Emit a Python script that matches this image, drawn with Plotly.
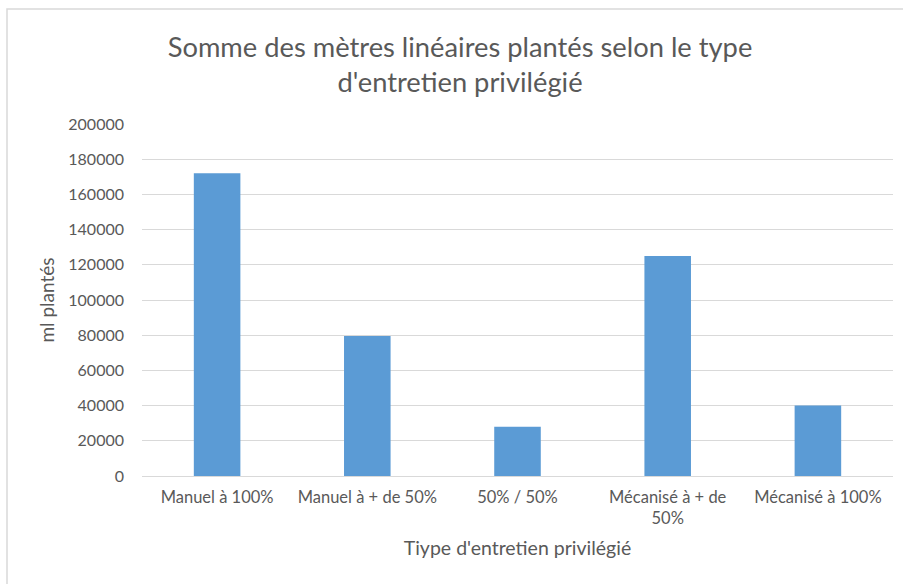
import plotly.graph_objects as go

categories = ["Manuel à 100%", "Manuel à + de 50%", "50% / 50%",
              "Mécanisé à + de<br>50%", "Mécanisé à 100%"]
values = [172000, 79500, 28000, 125000, 40000]
y_ticks = [0, 20000, 40000, 60000, 80000, 100000, 120000, 140000, 160000, 180000, 200000]

W, H = 903, 584
ML, MR, MT, MB = 142, 10, 124, 108
pw, ph = W - ML - MR, H - MT - MB

text_color = "#595959"
font_family = "Lato, 'Open Sans', sans-serif"

fig = go.Figure(go.Bar(
    x=categories, y=values,
    marker=dict(color="#5B9BD5", line=dict(width=0)),
    width=0.31,
))

# chart-area frame (top and left edges visible)
fig.add_shape(type="rect", xref="paper", yref="paper",
              x0=(7 - ML) / pw, x1=(W + 20 - ML) / pw,
              y0=(H - MB - (H + 20)) / ph, y1=(H - MB - 9) / ph,
              line=dict(color="#D9D9D9", width=1.5), fillcolor="rgba(0,0,0,0)",
              layer="below")

fig.update_layout(
    width=W, height=H,
    margin=dict(l=ML, r=MR, t=MT, b=MB),
    paper_bgcolor="white", plot_bgcolor="white",
    font=dict(family=font_family, color=text_color, size=14),
    title=dict(
        text="Somme des mètres linéaires plantés selon le type<br>d'entretien privilégié",
        x=460 / W, xanchor="center", y=1 - 57 / H, yanchor="top",
        font=dict(size=27.3, color=text_color, family=font_family),
    ),
    showlegend=False,
    bargap=0.69,
)

fig.update_xaxes(
    showgrid=False, showline=True, linecolor="#D9D9D9", linewidth=1,
    ticks="", ticklabelstandoff=6, tickfont=dict(size=16.5, color=text_color),
    title=dict(text="Tiype d'entretien privilégié", font=dict(size=19.5, color=text_color), standoff=14),
)
fig.update_yaxes(
    range=[0, 200000], tickvals=y_ticks, ticktext=[str(v) for v in y_ticks],
    showgrid=True, gridcolor="#D9D9D9", gridwidth=1,
    zeroline=False, showline=False, ticks="", ticklabelstandoff=17,
    tickfont=dict(size=16, color=text_color),
    title=dict(text="ml plantés", font=dict(size=19, color=text_color), standoff=8),
)

fig.write_html("out.html")
